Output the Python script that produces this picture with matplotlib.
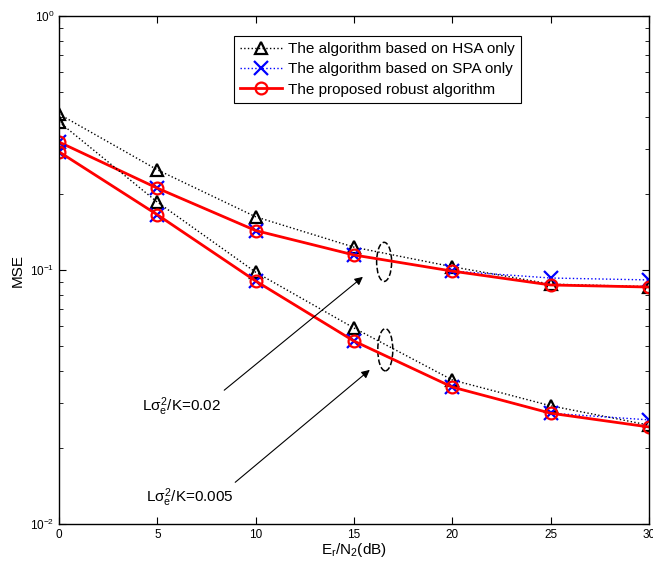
import matplotlib
matplotlib.use("Agg")
import matplotlib.pyplot as plt
from matplotlib.patches import Ellipse
from matplotlib.ticker import LogLocator, NullFormatter

plt.rcParams["font.family"] = ["Liberation Sans", "DejaVu Sans"]
plt.rcParams["mathtext.fontset"] = "custom"
plt.rcParams["mathtext.rm"] = "Liberation Sans"
plt.rcParams["mathtext.it"] = "Liberation Sans"

snr_db = [0, 5, 10, 15, 20, 25, 30]

# L*sigma_e^2/K = 0.02
hsa_002 = [0.411, 0.248, 0.162, 0.123, 0.103, 0.088, 0.086]
spa_002 = [0.319, 0.210, 0.143, 0.1146, 0.099, 0.093, 0.0914]
rob_002 = [0.319, 0.210, 0.143, 0.1146, 0.099, 0.0873, 0.0857]

# L*sigma_e^2/K = 0.005
hsa_0005 = [0.383, 0.185, 0.098, 0.0591, 0.0369, 0.0292, 0.0245]
spa_0005 = [0.292, 0.165, 0.0905, 0.0525, 0.0346, 0.0273, 0.0257]
rob_0005 = [0.292, 0.165, 0.0905, 0.0525, 0.0346, 0.0273, 0.0241]

labels = ["The algorithm based on HSA only",
          "The algorithm based on SPA only",
          "The proposed robust algorithm"]

fig = plt.figure(figsize=(6.53, 5.66), dpi=100)
ax = fig.add_axes([0.0904, 0.0742, 0.9035, 0.8975])

hsa_style = dict(color="black", linestyle=":", linewidth=1.0, marker="^",
                 markersize=9, markerfacecolor="none", markeredgewidth=1.6)
spa_style = dict(color="blue", linestyle=":", linewidth=1.0, marker="x",
                 markersize=10, markeredgewidth=1.6)
rob_style = dict(color="red", linestyle="-", linewidth=2.0, marker="o",
                 markersize=8.5, markerfacecolor="none", markeredgewidth=1.6)

h1, = ax.plot(snr_db, hsa_002, **hsa_style)
h2, = ax.plot(snr_db, spa_002, **spa_style)
h3, = ax.plot(snr_db, rob_002, **rob_style)
ax.plot(snr_db, hsa_0005, **hsa_style)
ax.plot(snr_db, spa_0005, **spa_style)
ax.plot(snr_db, rob_0005, **rob_style)

ax.set_yscale("log")
ax.set_xlim(0, 30)
ax.set_ylim(1e-2, 1e0)
ax.set_xticks(snr_db)
ax.yaxis.set_major_locator(LogLocator(base=10, numticks=5))
ax.yaxis.set_minor_locator(LogLocator(base=10, subs=range(2, 10), numticks=20))
ax.yaxis.set_minor_formatter(NullFormatter())
ax.tick_params(which="both", direction="in", top=True, right=True, labelsize=8.5)
ax.tick_params(which="major", length=5)
ax.tick_params(which="minor", length=3)
for sp in ax.spines.values():
    sp.set_linewidth(1.0)

ax.set_xlabel(r"E$_r$/N$_2$(dB)", fontsize=11, labelpad=0)
ax.set_ylabel("MSE", fontsize=11, labelpad=4)

leg = ax.legend([h1, h2, h3], labels, loc="upper left",
                bbox_to_anchor=(0.297, 0.961), borderaxespad=0, fontsize=11,
                fancybox=False, edgecolor="black", framealpha=1,
                handlelength=2.7, borderpad=0.4, labelspacing=0.42,
                handletextpad=0.4)
leg.get_frame().set_linewidth(0.8)

# dashed ellipses marking each group (axes-fraction coordinates)
ax.add_patch(Ellipse((0.551, 0.516), 0.0254, 0.077, transform=ax.transAxes,
                     fill=False, linestyle="--", linewidth=1.1, color="black"))
ax.add_patch(Ellipse((0.553, 0.343), 0.0254, 0.083, transform=ax.transAxes,
                     fill=False, linestyle="--", linewidth=1.1, color="black"))

arrow = dict(arrowstyle="-|>", color="black", linewidth=0.8, mutation_scale=12)
ax.annotate("", xy=(15.56, 0.0955), xytext=(8.29, 0.0331), arrowprops=arrow)
ax.annotate("", xy=(15.91, 0.0411), xytext=(8.85, 0.01436), arrowprops=arrow)
ax.text(6.25, 0.0289, r"L$\sigma_e^2$/K=0.02", fontsize=11, ha="center", va="center")
ax.text(6.66, 0.01265, r"L$\sigma_e^2$/K=0.005", fontsize=11, ha="center", va="center")

fig.savefig("out.png", dpi=100)
